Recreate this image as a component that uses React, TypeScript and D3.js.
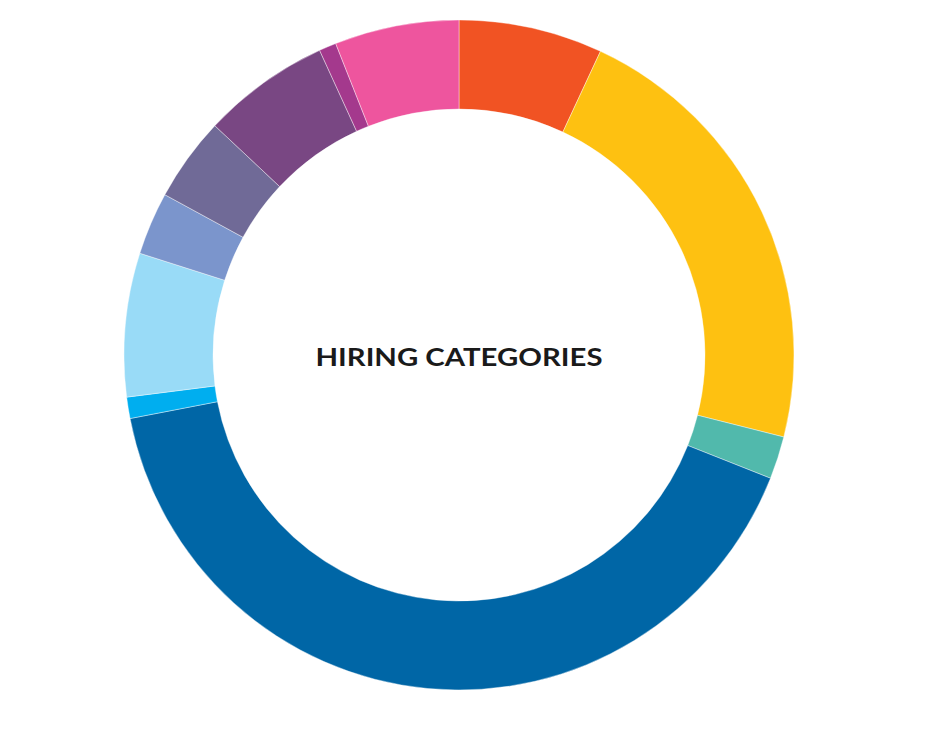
import React from 'react';
import * as d3 from 'd3';

// hiring categories, clockwise from 12 o'clock
const categories = [
  'Category A', 'Category B', 'Category C', 'Category D', 'Category E', 'Category F',
  'Category G', 'Category H', 'Category I', 'Category J', 'Category K',
];
const shares = [6.94, 22.0, 2.06, 40.97, 1.03, 6.92, 3.03, 4.06, 6.17, 0.83, 6.0];
const colors = [
  '#F15323', '#FEC111', '#51B9AC', '#0066A6', '#00AEEF', '#99DBF7',
  '#7B95CC', '#706A97', '#794783', '#A4398D', '#EE559E',
];
const title = 'HIRING CATEGORIES';

const width = 928;
const height = 733;
const cx = 459;
const cy = 355;
const outerRadius = 335;
const innerRadius = 246;

const App: React.FC = () => {
  const data = categories.map((c, i) => ({ name: c, value: shares[i], color: colors[i] }));

  const pie = d3.pie<{ name: string; value: number; color: string }>()
    .sort(null)
    .value(d => d.value);

  const arc = d3.arc<d3.PieArcDatum<{ name: string; value: number; color: string }>>()
    .innerRadius(innerRadius)
    .outerRadius(outerRadius);

  const arcs = pie(data);

  return (
    <svg
      width={width}
      height={height}
      style={{ position: 'absolute', left: 0, top: 0, display: 'block' }}
    >
      <g transform={`translate(${cx},${cy})`}>
        {arcs.map(a => (
          <path
            key={a.data.name}
            d={arc(a) as string}
            fill={a.data.color}
            stroke="#ffffff"
            strokeWidth={0.4}
          />
        ))}
        <text
          x={0}
          y={5}
          textAnchor="middle"
          dominantBaseline="middle"
          fontFamily="Lato, 'Open Sans', sans-serif"
          fontWeight={700}
          fontSize={25}
          textLength={287}
          lengthAdjust="spacingAndGlyphs"
          fill="#1a1a1a"
        >
          {title}
        </text>
      </g>
    </svg>
  );
};

export default App;
